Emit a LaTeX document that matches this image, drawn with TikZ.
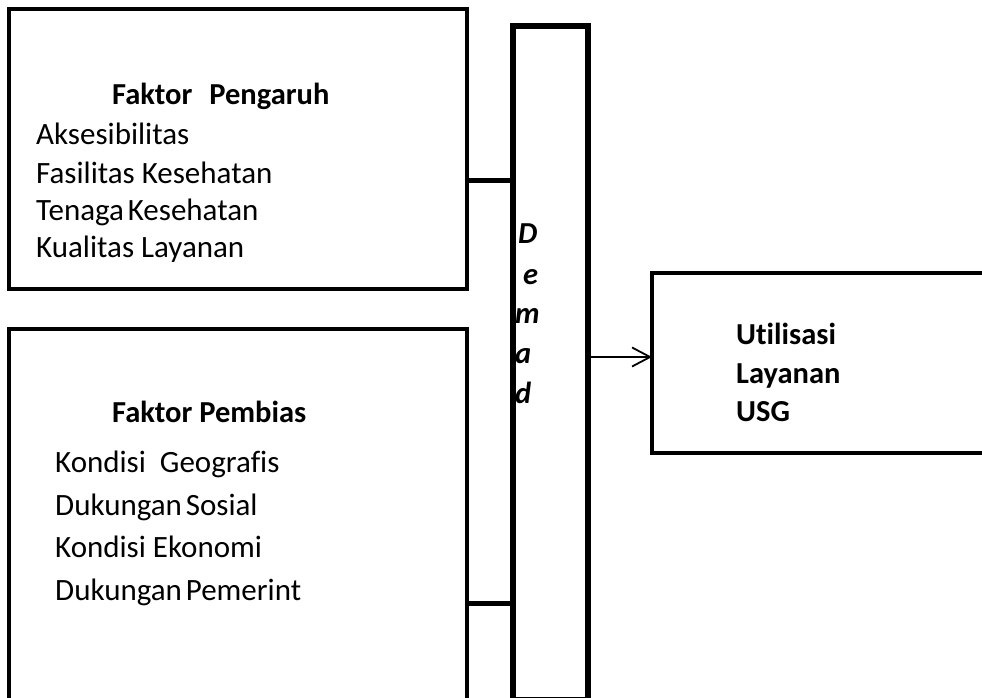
\documentclass[tikz,border=0pt]{standalone}
\usepackage{fontspec}
\setmainfont{Carlito}[Ligatures={NoCommon}]
\usetikzlibrary{arrows.meta}

\begin{document}
\begin{tikzpicture}[x=1pt,y=-1pt,
  frame/.style={draw=black,line width=4.5pt,rectangle,inner sep=0pt,outer sep=0pt},
  barframe/.style={draw=black,line width=5.5pt,rectangle,inner sep=0pt,outer sep=0pt},
  link/.style={draw=black,line width=5pt},
  flow/.style={draw=black,line width=1.8pt,-{Straight Barb[length=18pt,width=19pt,line width=1.8pt]}},
  txt/.style={anchor=base west,inner sep=0pt,font=\fontsize{31}{36}\selectfont},
  head/.style={txt,font=\fontsize{30.5}{36}\selectfont\bfseries},
  letter/.style={txt,font=\fontsize{30.5}{36}\selectfont\bfseries\itshape}]

\useasboundingbox (0,0) rectangle (982,698);
\clip (0,0) rectangle (982,698);

% boxes
\node[frame,minimum width=458pt,minimum height=280pt] (pengaruh) at (238,149) {};
\node[frame,minimum width=458pt,minimum height=371pt] (pembias) at (238,514.5) {};
\node[barframe,minimum width=75pt,minimum height=674pt] (demand) at (550.5,363) {};
\node[frame,line width=4pt,minimum width=348pt,minimum height=180pt] (usg) at (826,363) {};

% connector heights
\coordinate (j1) at (0,180);
\coordinate (j2) at (0,603);
\coordinate (j3) at (0,357);

\draw[link] (pengaruh.east |- j1) -- (demand.west |- j1);
\draw[link] (pembias.east |- j2) -- (demand.west |- j2);
\draw[flow] (demand.east |- j3) -- (usg.west |- j3);

% Faktor Pengaruh
\node[head] (h1) at (112,105) {Faktor\hspace{0.33em} Pengaruh};
\node[txt] (p1) at (36,145) {Aksesibilitas};
\node[txt] (p2) at (36,183) {Fasilitas Kesehatan};
\node[txt] (p3) at (36,220) {Tenaga\hspace{-0.1em} Kesehatan};
\node[txt] (p4) at (36,257) {Kualitas Layanan};

% Faktor Pembias
\node[head] (h2) at (112,422) {Faktor Pembias};
\node[txt] (b1) at (55,472) {Kondisi \ Geografis};
\node[txt] (b2) at (55,515) {Dukungan\hspace{-0.1em} Sosial};
\node[txt] (b3) at (55,557) {Kondisi Ekonomi};
\node[txt] (b4) at (55,600) {Dukungan\hspace{-0.1em} Pemerint};

% Demand, one letter per line
\node[letter] (d1) at (518,243) {D};
\node[letter] (d2) at (523,284) {e};
\node[letter] (d3) at (515,323) {m};
\node[letter] (d4) at (515,363) {a};
\node[letter] (d5) at (515,403) {d};

% Utilisasi Layanan USG
\node[head] (u1) at (736,344) {Utilisasi};
\node[head] (u2) at (736,383) {Layanan};
\node[head] (u3) at (736,421) {USG};
\end{tikzpicture}
\end{document}
